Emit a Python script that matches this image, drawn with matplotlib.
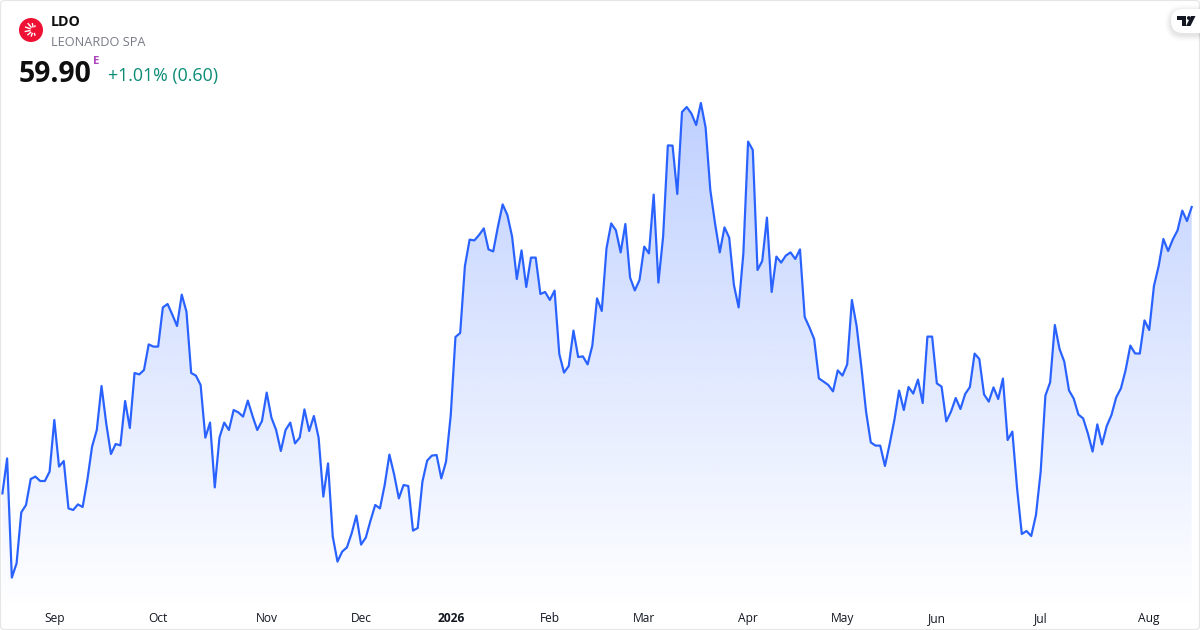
import numpy as np
import matplotlib
matplotlib.use("Agg")
import matplotlib.pyplot as plt
from matplotlib.patches import Circle, FancyBboxPatch, Polygon

plt.rcParams['font.family'] = ['Open Sans', 'DejaVu Sans']

# closing prices
sep_dec = [45.58, 47.33, 41.37, 42.08, 44.63, 45.00, 46.30, 46.42, 46.20, 46.20,
           46.67, 49.25, 46.92, 47.20, 44.83, 44.75, 45.03, 44.90, 46.25, 47.92,
           48.75, 50.95, 49.08, 47.55, 48.05, 47.98, 50.20, 48.85, 51.60, 51.53,
           51.75, 53.03, 52.92, 52.92, 54.88, 55.05, 54.52, 53.95, 55.52, 54.67,
           51.60, 51.47, 51.00, 48.37, 49.12, 45.88, 48.38, 49.12, 48.75, 49.75,
           49.63, 49.42, 50.22, 49.45, 48.75, 49.20, 50.62, 49.37, 48.75, 47.70,
           48.75, 49.12, 48.08, 48.37, 49.78, 48.70, 49.45, 48.37, 45.42, 47.08,
           43.42, 42.17, 42.67, 42.88, 43.58, 44.47, 43.02, 43.37, 44.22, 45.00,
           44.83, 46.00, 47.52, 46.53, 45.33]
dec_jan = [46.00, 45.95, 43.72, 43.85, 46.17, 47.22, 47.47, 47.50, 46.33, 47.17,
           49.50, 53.40, 53.60]
jan_apr = [56.95, 58.27, 58.23, 58.50, 58.83, 57.78, 57.68, 58.92, 60.03, 59.50,
           58.42, 56.30, 57.73, 55.90, 57.37, 57.37, 55.55, 55.65, 55.25, 55.72,
           52.55, 51.62, 51.95, 53.72, 52.40, 52.43, 52.03, 52.97, 55.33, 54.70,
           57.83, 59.08, 58.73, 57.63, 59.05, 56.37, 55.73, 56.25, 57.92, 57.58,
           60.52, 56.12, 58.42, 62.98, 62.97, 60.55, 64.65, 64.90, 64.57, 64.00,
           65.10, 63.88, 60.75, 59.08, 57.63, 58.88, 58.37, 56.00, 54.88, 57.58,
           63.17, 62.75, 56.75, 57.20, 59.37, 55.65, 57.42, 57.12, 57.47, 57.63,
           57.30, 57.78]
apr_aug = [54.40, 53.88, 53.30, 51.33, 51.17, 51.00, 50.68, 51.73, 51.47, 52.03,
           55.25, 53.95, 51.92, 49.67, 48.13, 47.97, 47.97, 46.95, 48.05, 49.25,
           50.72, 49.75, 50.90, 50.57, 51.27, 50.10, 53.42, 53.42, 51.08, 50.92,
           49.18, 49.67, 50.35, 49.80, 50.55, 50.90, 52.57, 52.30, 50.53, 50.17,
           50.88, 50.30, 51.32, 48.25, 48.67, 45.83, 43.55, 43.70, 43.45, 44.50,
           46.67, 50.47, 51.13, 54.00, 52.80, 52.17, 50.73, 50.32, 49.52, 49.33,
           48.58, 47.67, 49.03, 48.03, 48.95, 49.50, 50.38, 50.83, 51.75, 52.97,
           52.58, 52.57, 54.23, 53.75, 55.95, 56.95, 58.30, 57.70, 58.28, 58.73,
           59.72, 59.20, 59.90]
prices = np.array(sep_dec + dec_jan + jan_apr + apr_aug)

month_labels = ["Sep", "Oct", "Nov", "Dec", "2026", "Feb", "Mar", "Apr", "May", "Jun", "Jul", "Aug"]
month_pos = [11, 33, 56, 76, 95, 116, 136, 158, 178, 198, 220, 243]

ticker = "LDO"
company = "LEONARDO SPA"
last_price = "59.90"
change = "+1.01% (0.60)"

BLUE = "#2962ff"
step = (1191.7 - 2.4) / (len(prices) - 1)
price_per_px = 0.05


def px(size):
    return size * 0.72


fig = plt.figure(figsize=(12, 6.3), dpi=100, facecolor="white")

# price chart fills the whole card
ax = fig.add_axes([0, 0, 1, 1])
x = np.arange(len(prices))
xlim = (-2.4 / step, (1200 - 2.4) / step)
ylim = (59.90 - (630 - 207) * price_per_px, 59.90 + 207 * price_per_px)
base = 59.90 - (602 - 207) * price_per_px

# vertical gradient under the line
n_rows = 256
grad = np.zeros((n_rows, 1, 4))
grad[..., 0] = 41 / 255
grad[..., 1] = 98 / 255
grad[..., 2] = 1.0
grad[:, 0, 3] = np.linspace(0.30, 0.005, n_rows)
im = ax.imshow(grad, extent=(x[0], x[-1], base, prices.max()), aspect="auto", zorder=1,
               interpolation="bilinear")
verts = [(x[0], base)] + list(zip(x, prices)) + [(x[-1], base), (x[0], base)]
clip = Polygon(verts, closed=True, transform=ax.transData, facecolor="none", edgecolor="none")
ax.add_patch(clip)
im.set_clip_path(clip)

ax.plot(x, prices, color=BLUE, lw=px(2.2), solid_joinstyle="round", zorder=2)
ax.set_xlim(*xlim)
ax.set_ylim(*ylim)

ax.set_xticks(month_pos)
ax.set_xticklabels(month_labels)
ax.tick_params(axis="x", direction="in", length=0, pad=-13, labelsize=px(12), labelcolor="#131722")
ax.get_xticklabels()[4].set_fontweight("bold")
ax.set_yticks([])
for s in ax.spines.values():
    s.set_visible(False)

# overlay in pixel coordinates for the header and the logos
top = fig.add_axes([0, 0, 1, 1])
top.set_xlim(0, 1200)
top.set_ylim(630, 0)
top.axis("off")
top.patch.set_visible(False)

top.add_patch(FancyBboxPatch((0.5, 0.5), 1199, 629, boxstyle="round,pad=0,rounding_size=4",
                             fc="none", ec="#e6e6e6", lw=px(1.2)))

# company logo
top.add_patch(Circle((31, 30), 12, fc="#ee1133", ec="none"))
for ang, r0, r1 in [(100, 2.5, 7), (130, 3, 9), (160, 3, 9), (190, 3, 9), (220, 3, 8), (250, 3, 7), (285, 3, 6), (70, 3, 5)]:
    a = np.deg2rad(ang)
    top.plot([33.5 + r0 * np.cos(a), 33.5 + r1 * np.cos(a)],
             [30 - r0 * np.sin(a), 30 - r1 * np.sin(a)], color="white", lw=px(1.4), solid_capstyle="butt")

top.text(51, 21.5, ticker, fontsize=px(14.2), fontweight="bold", color="#0f0f0f", va="center", ha="left")
top.text(51, 42.5, company, fontsize=px(12.8), color="#787b86", va="center", ha="left")
top.text(19, 74, last_price, fontsize=px(28.4), fontweight="bold", color="#0f0f0f", va="center", ha="left")
top.text(93, 62, "E", fontsize=px(11.5), fontweight="bold", color="#ab47bc", va="center", ha="left")
top.text(108, 76, change, fontsize=px(17.8), color="#0b8c76", va="center", ha="left")

# tradingview badge, soft shadow then white pill
for grow, alpha in [(6, 0.01), (5, 0.012), (4, 0.015), (3, 0.018), (2, 0.02), (1, 0.025)]:
    top.add_patch(FancyBboxPatch((1171 - grow, 9 - grow + 2), 60 + 2 * grow, 24 + 2 * grow,
                                 boxstyle="round,pad=0,rounding_size=%d" % (12 + grow),
                                 fc="black", ec="none", alpha=alpha, clip_on=True))
top.add_patch(FancyBboxPatch((1171, 9), 60, 24, boxstyle="round,pad=0,rounding_size=12",
                             fc="white", ec="none", clip_on=True))
top.add_patch(Polygon([(1177, 16), (1186, 16), (1186, 26), (1181.5, 26), (1181.5, 19.5), (1177, 19.5)],
                      closed=True, fc="#131722", ec="none"))
top.add_patch(Circle((1188.8, 18), 1.9, fc="#131722", ec="none"))
top.add_patch(Polygon([(1191, 16), (1195.5, 16), (1190.5, 26), (1186, 26)],
                      closed=True, fc="#131722", ec="none"))

fig.savefig("out.png", dpi=100, facecolor="white")
